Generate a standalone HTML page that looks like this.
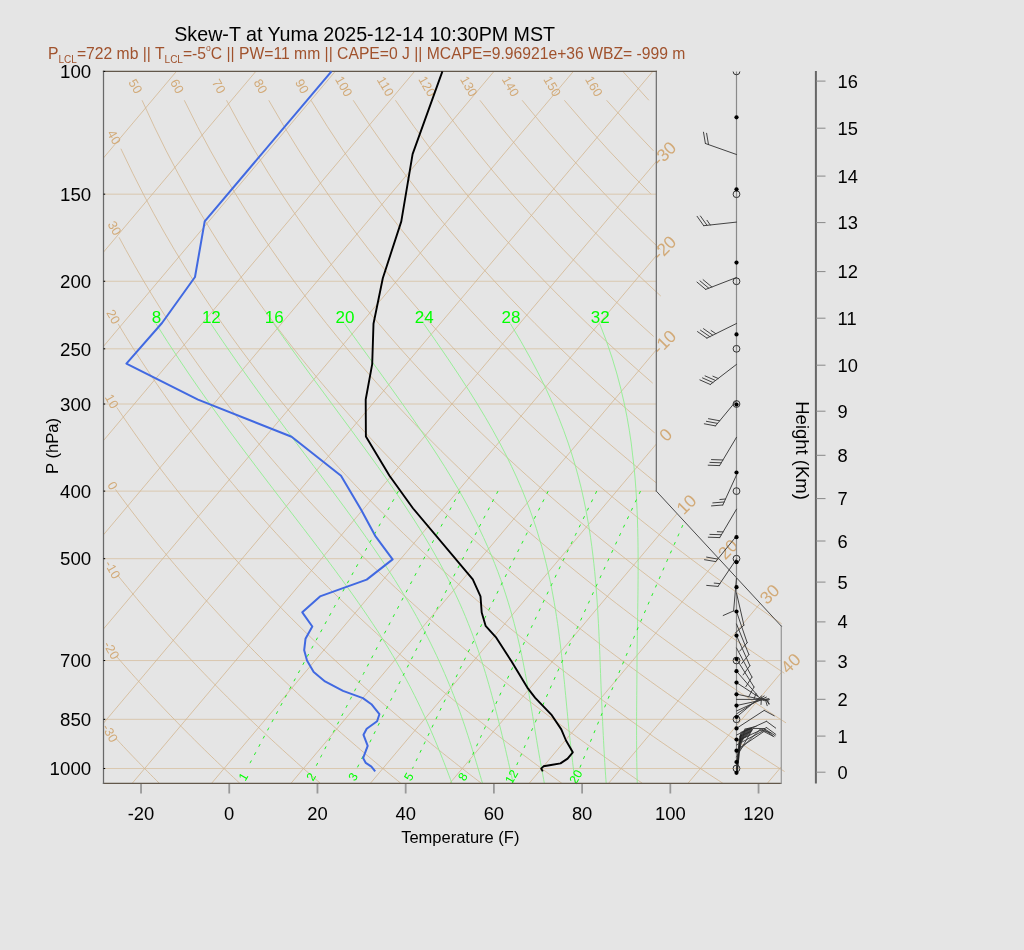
<!DOCTYPE html>
<html><head><meta charset="utf-8"><style>
html,body{margin:0;padding:0;background:#e5e5e5;overflow:hidden;}
svg{display:block;font-family:"Liberation Sans",sans-serif;will-change:transform;}
</style></head><body>
<svg width="1024" height="950" viewBox="0 0 1024 950">
<rect width="1024" height="950" fill="#e5e5e5"/>
<defs><clipPath id="cb"><polygon points="103.5,783.3 781.3,783.3 781.3,626.12 656.33,491.16 656.33,71.4 103.5,71.4"/></clipPath><clipPath id="ctop"><rect x="0" y="71.4" width="1024" height="900"/></clipPath></defs>
<g clip-path="url(#cb)" fill="none">
<g stroke="#d2b48c" stroke-width="1" stroke-opacity="0.6">
<line x1="103.5" y1="768.53" x2="781.3" y2="768.53"/>
<line x1="103.5" y1="719.33" x2="781.3" y2="719.33"/>
<line x1="103.5" y1="660.54" x2="781.3" y2="660.54"/>
<line x1="103.5" y1="558.68" x2="718.85" y2="558.68"/>
<line x1="103.5" y1="491.12" x2="656.33" y2="491.12"/>
<line x1="103.5" y1="404.02" x2="656.33" y2="404.02"/>
<line x1="103.5" y1="348.82" x2="656.33" y2="348.82"/>
<line x1="103.5" y1="281.27" x2="656.33" y2="281.27"/>
<line x1="103.5" y1="194.17" x2="656.33" y2="194.17"/>
<line x1="103.5" y1="71.42" x2="656.33" y2="71.42"/>
</g>
<g stroke="#d2b48c" stroke-width="0.9" stroke-opacity="0.85">
<line x1="-423.56" y1="783.3" x2="176.42" y2="71.4"/>
<line x1="-344.17" y1="783.3" x2="255.82" y2="71.4"/>
<line x1="-264.77" y1="783.3" x2="335.21" y2="71.4"/>
<line x1="-185.38" y1="783.3" x2="414.61" y2="71.4"/>
<line x1="-105.98" y1="783.3" x2="494" y2="71.4"/>
<line x1="-26.59" y1="783.3" x2="573.4" y2="71.4"/>
<line x1="52.81" y1="783.3" x2="652.79" y2="71.4"/>
<line x1="132.21" y1="783.3" x2="732.19" y2="71.4"/>
<line x1="211.6" y1="783.3" x2="811.58" y2="71.4"/>
<line x1="291" y1="783.3" x2="890.98" y2="71.4"/>
<line x1="370.39" y1="783.3" x2="970.38" y2="71.4"/>
<line x1="449.79" y1="783.3" x2="1049.77" y2="71.4"/>
<line x1="529.18" y1="783.3" x2="1129.17" y2="71.4"/>
<line x1="608.58" y1="783.3" x2="1208.56" y2="71.4"/>
<line x1="687.97" y1="783.3" x2="1287.96" y2="71.4"/>
<line x1="767.37" y1="783.3" x2="1367.35" y2="71.4"/>
</g>
</g>
<g stroke="#d2b48c" stroke-width="0.9" stroke-opacity="0.85" fill="none">
<polyline points="116.53,739.1 117.34,739.98 120.44,743.28 123.52,746.56 126.58,749.8 129.63,753 132.66,756.17 135.68,759.31 138.69,762.41 141.68,765.49 144.65,768.53 147.62,771.54 150.57,774.52 153.5,777.48 156.42,780.4 159.33,783.3"/>
<polyline points="116.89,656.8 120.14,660.54 123.9,664.84 127.64,669.07 131.35,673.25 135.04,677.37 138.71,681.43 142.35,685.44 145.98,689.4 149.58,693.31 153.16,697.16 156.72,700.97 160.27,704.73 163.79,708.45 167.29,712.12 170.77,715.74 174.24,719.33 177.68,722.87 181.1,726.37 184.51,729.83 187.9,733.25 191.27,736.63 194.63,739.98 197.96,743.28 201.28,746.56 204.58,749.8 207.87,753 211.14,756.17 214.39,759.31 217.63,762.41 220.85,765.49 224.05,768.53 227.24,771.54 230.41,774.52 233.57,777.48 236.71,780.4 239.84,783.3"/>
<polyline points="117.71,575.3 118.52,576.32 123.09,581.98 127.63,587.53 132.13,592.99 136.6,598.35 141.03,603.61 145.43,608.79 149.8,613.88 154.14,618.88 158.44,623.8 162.72,628.65 166.96,633.41 171.18,638.11 175.37,642.73 179.53,647.28 183.66,651.77 187.76,656.19 191.84,660.54 195.89,664.84 199.91,669.07 203.91,673.25 207.88,677.37 211.83,681.43 215.75,685.44 219.65,689.4 223.53,693.31 227.38,697.16 231.21,700.97 235.02,704.73 238.8,708.45 242.56,712.12 246.31,715.74 250.02,719.33 253.72,722.87 257.4,726.37 261.06,729.83 264.69,733.25 268.31,736.63 271.91,739.98 275.49,743.28 279.05,746.56 282.59,749.8 286.11,753 289.61,756.17 293.1,759.31 296.56,762.41 300.01,765.49 303.45,768.53 306.86,771.54 310.26,774.52 313.64,777.48 317.01,780.4 320.35,783.3"/>
<polyline points="115.5,489.5 116.68,491.12 122.21,498.6 127.68,505.89 133.1,513.01 138.48,519.97 143.8,526.78 149.07,533.43 154.3,539.94 159.48,546.32 164.62,552.56 169.71,558.68 174.76,564.67 179.77,570.55 184.74,576.32 189.66,581.98 194.55,587.53 199.39,592.99 204.2,598.35 208.97,603.61 213.71,608.79 218.4,613.88 223.06,618.88 227.69,623.8 232.29,628.65 236.84,633.41 241.37,638.11 245.87,642.73 250.33,647.28 254.76,651.77 259.16,656.19 263.53,660.54 267.87,664.84 272.19,669.07 276.47,673.25 280.73,677.37 284.95,681.43 289.16,685.44 293.33,689.4 297.48,693.31 301.6,697.16 305.7,700.97 309.77,704.73 313.82,708.45 317.84,712.12 321.84,715.74 325.81,719.33 329.77,722.87 333.7,726.37 337.6,729.83 341.49,733.25 345.35,736.63 349.19,739.98 353.01,743.28 356.81,746.56 360.59,749.8 364.35,753 368.08,756.17 371.8,759.31 375.5,762.41 379.18,765.49 382.84,768.53 386.48,771.54 390.1,774.52 393.71,777.48 397.3,780.4 400.86,783.3"/>
<polyline points="116.86,407.5 121.2,413.95 127.77,423.56 134.26,432.88 140.68,441.92 147.03,450.69 153.31,459.22 159.52,467.52 165.67,475.59 171.75,483.45 177.77,491.12 183.73,498.6 189.63,505.89 195.47,513.01 201.26,519.97 206.98,526.78 212.66,533.43 218.28,539.94 223.85,546.32 229.36,552.56 234.83,558.68 240.25,564.67 245.62,570.55 250.95,576.32 256.23,581.98 261.46,587.53 266.66,592.99 271.81,598.35 276.91,603.61 281.98,608.79 287.01,613.88 291.99,618.88 296.94,623.8 301.85,628.65 306.73,633.41 311.56,638.11 316.37,642.73 321.13,647.28 325.86,651.77 330.56,656.19 335.23,660.54 339.86,664.84 344.46,669.07 349.03,673.25 353.57,677.37 358.08,681.43 362.56,685.44 367.01,689.4 371.43,693.31 375.82,697.16 380.18,700.97 384.52,704.73 388.83,708.45 393.11,712.12 397.37,715.74 401.6,719.33 405.81,722.87 409.99,726.37 414.15,729.83 418.28,733.25 422.39,736.63 426.47,739.98 430.53,743.28 434.57,746.56 438.59,749.8 442.59,753 446.56,756.17 450.51,759.31 454.44,762.41 458.35,765.49 462.24,768.53 466.1,771.54 469.95,774.52 473.78,777.48 477.59,780.4 481.38,783.3"/>
<polyline points="118.11,323.9 125.78,336.47 133.53,348.82 141.19,360.7 148.74,372.13 156.2,383.14 163.55,393.76 170.82,404.02 177.99,413.95 185.08,423.56 192.08,432.88 199,441.92 205.83,450.69 212.59,459.22 219.27,467.52 225.87,475.59 232.41,483.45 238.87,491.12 245.26,498.6 251.58,505.89 257.84,513.01 264.04,519.97 270.17,526.78 276.24,533.43 282.25,539.94 288.21,546.32 294.11,552.56 299.95,558.68 305.74,564.67 311.48,570.55 317.16,576.32 322.8,581.98 328.38,587.53 333.92,592.99 339.41,598.35 344.85,603.61 350.25,608.79 355.61,613.88 360.92,618.88 366.19,623.8 371.42,628.65 376.61,633.41 381.76,638.11 386.86,642.73 391.94,647.28 396.97,651.77 401.96,656.19 406.92,660.54 411.85,664.84 416.74,669.07 421.59,673.25 426.42,677.37 431.2,681.43 435.96,685.44 440.68,689.4 445.38,693.31 450.04,697.16 454.67,700.97 459.27,704.73 463.85,708.45 468.39,712.12 472.9,715.74 477.39,719.33 481.85,722.87 486.29,726.37 490.69,729.83 495.07,733.25 499.43,736.63 503.76,739.98 508.06,743.28 512.34,746.56 516.59,749.8 520.82,753 525.03,756.17 529.22,759.31 533.38,762.41 537.51,765.49 541.63,768.53 545.72,771.54 549.8,774.52 553.85,777.48 557.88,780.4 561.89,783.3"/>
<polyline points="119.04,237.3 125.58,249.37 134.75,265.74 143.78,281.27 152.68,296.04 161.44,310.12 170.06,323.58 178.57,336.47 186.94,348.82 195.2,360.7 203.34,372.13 211.36,383.14 219.28,393.76 227.09,404.02 234.79,413.95 242.39,423.56 249.9,432.88 257.31,441.92 264.64,450.69 271.87,459.22 279.01,467.52 286.08,475.59 293.06,483.45 299.96,491.12 306.78,498.6 313.53,505.89 320.21,513.01 326.82,519.97 333.35,526.78 339.82,533.43 346.23,539.94 352.57,546.32 358.85,552.56 365.07,558.68 371.23,564.67 377.33,570.55 383.37,576.32 389.36,581.98 395.3,587.53 401.18,592.99 407.01,598.35 412.8,603.61 418.53,608.79 424.21,613.88 429.85,618.88 435.44,623.8 440.99,628.65 446.49,633.41 451.95,638.11 457.36,642.73 462.74,647.28 468.07,651.77 473.37,656.19 478.62,660.54 483.84,664.84 489.01,669.07 494.15,673.25 499.26,677.37 504.33,681.43 509.36,685.44 514.36,689.4 519.33,693.31 524.26,697.16 529.16,700.97 534.02,704.73 538.86,708.45 543.66,712.12 548.44,715.74 553.18,719.33 557.9,722.87 562.58,726.37 567.24,729.83 571.86,733.25 576.46,736.63 581.04,739.98 585.58,743.28 590.1,746.56 594.6,749.8 599.06,753 603.5,756.17 607.92,759.31 612.31,762.41 616.68,765.49 621.03,768.53 625.35,771.54 629.64,774.52 633.92,777.48 638.17,780.4 642.4,783.3"/>
<polyline points="120.92,148.7 121.92,150.85 132.73,173.28 143.36,194.17 153.82,213.71 164.09,232.06 174.19,249.37 184.12,265.74 193.89,281.27 203.49,296.04 212.93,310.12 222.21,323.58 231.35,336.47 240.35,348.82 249.21,360.7 257.93,372.13 266.53,383.14 275,393.76 283.35,404.02 291.59,413.95 299.71,423.56 307.72,432.88 315.63,441.92 323.44,450.69 331.15,459.22 338.76,467.52 346.28,475.59 353.71,483.45 361.05,491.12 368.31,498.6 375.48,505.89 382.58,513.01 389.6,519.97 396.54,526.78 403.41,533.43 410.21,539.94 416.93,546.32 423.59,552.56 430.19,558.68 436.71,564.67 443.18,570.55 449.59,576.32 455.93,581.98 462.22,587.53 468.45,592.99 474.62,598.35 480.74,603.61 486.8,608.79 492.82,613.88 498.78,618.88 504.69,623.8 510.55,628.65 516.37,633.41 522.14,638.11 527.86,642.73 533.54,647.28 539.18,651.77 544.77,656.19 550.32,660.54 555.82,664.84 561.29,669.07 566.72,673.25 572.1,677.37 577.45,681.43 582.76,685.44 588.04,689.4 593.28,693.31 598.48,697.16 603.64,700.97 608.78,704.73 613.87,708.45 618.94,712.12 623.97,715.74 628.97,719.33 633.94,722.87 638.88,726.37 643.78,729.83 648.66,733.25 653.5,736.63 658.32,739.98 663.11,743.28 667.87,746.56 672.6,749.8 677.3,753 681.98,756.17 686.63,759.31 691.25,762.41 695.85,765.49 700.42,768.53 704.97,771.54 709.49,774.52 713.99,777.48 718.46,780.4 722.91,783.3"/>
<polyline points="142.06,100.27 154.25,126.61 166.22,150.85 177.98,173.28 189.51,194.17 200.82,213.71 211.92,232.06 222.81,249.37 233.5,265.74 243.99,281.27 254.3,296.04 264.42,310.12 274.36,323.58 284.14,336.47 293.76,348.82 303.22,360.7 312.53,372.13 321.7,383.14 330.73,393.76 339.62,404.02 348.38,413.95 357.02,423.56 365.55,432.88 373.95,441.92 382.24,450.69 390.42,459.22 398.5,467.52 406.48,475.59 414.36,483.45 422.14,491.12 429.83,498.6 437.43,505.89 444.95,513.01 452.38,519.97 459.72,526.78 466.99,533.43 474.18,539.94 481.29,546.32 488.33,552.56 495.3,558.68 502.2,564.67 509.03,570.55 515.8,576.32 522.5,581.98 529.13,587.53 535.71,592.99 542.22,598.35 548.68,603.61 555.08,608.79 561.42,613.88 567.71,618.88 573.94,623.8 580.12,628.65 586.25,633.41 592.33,638.11 598.36,642.73 604.34,647.28 610.28,651.77 616.17,656.19 622.01,660.54 627.81,664.84 633.56,669.07 639.28,673.25 644.95,677.37 650.58,681.43 656.17,685.44 661.71,689.4 667.22,693.31 672.7,697.16 678.13,700.97 683.53,704.73 688.89,708.45 694.21,712.12 699.5,715.74 704.76,719.33 709.98,722.87 715.17,726.37 720.33,729.83 725.45,733.25 730.54,736.63 735.6,739.98 740.63,743.28 745.63,746.56 750.6,749.8 755.54,753 760.45,756.17 765.34,759.31 770.19,762.41 775.02,765.49 779.82,768.53 784.59,771.54"/>
<polyline points="184.29,100.27 197.54,126.61 210.52,150.85 223.22,173.28 235.66,194.17 247.83,213.71 259.75,232.06 271.43,249.37 282.88,265.74 294.1,281.27 305.11,296.04 315.91,310.12 326.51,323.58 336.93,336.47 347.17,348.82 357.23,360.7 367.13,372.13 376.86,383.14 386.45,393.76 395.89,404.02 405.18,413.95 414.34,423.56 423.37,432.88 432.27,441.92 441.04,450.69 449.7,459.22 458.25,467.52 466.68,475.59 475.01,483.45 483.23,491.12 491.36,498.6 499.38,505.89 507.32,513.01 515.16,519.97 522.91,526.78 530.57,533.43 538.16,539.94 545.66,546.32 553.08,552.56 560.42,558.68 567.69,564.67 574.89,570.55 582.01,576.32 589.06,581.98 596.05,587.53 602.97,592.99 609.83,598.35 616.62,603.61 623.35,608.79 630.02,613.88 636.64,618.88 643.19,623.8 649.69,628.65 656.13,633.41 662.52,638.11 668.86,642.73 675.15,647.28 681.38,651.77 687.57,656.19 693.71,660.54 699.8,664.84 705.84,669.07 711.84,673.25 717.79,677.37 723.7,681.43 729.57,685.44 735.39,689.4 741.17,693.31 746.92,697.16 752.62,700.97 758.28,704.73 763.9,708.45 769.49,712.12 775.04,715.74 780.55,719.33 786.03,722.87"/>
<polyline points="226.52,100.27 240.84,126.61 254.82,150.85 268.47,173.28 281.81,194.17 294.84,213.71 307.58,232.06 320.05,249.37 332.25,265.74 344.2,281.27 355.92,296.04 367.4,310.12 378.66,323.58 389.72,336.47 400.57,348.82 411.24,360.7 421.72,372.13 432.03,383.14 442.17,393.76 452.15,404.02 461.98,413.95 471.65,423.56 481.19,432.88 490.58,441.92 499.85,450.69 508.98,459.22 517.99,467.52 526.89,475.59 535.66,483.45 544.33,491.12 552.88,498.6 561.33,505.89 569.69,513.01 577.94,519.97 586.09,526.78 594.16,533.43 602.13,539.94 610.02,546.32 617.82,552.56 625.54,558.68 633.18,564.67 640.74,570.55 648.22,576.32 655.63,581.98 662.97,587.53 670.23,592.99 677.43,598.35 684.56,603.61 691.63,608.79 698.63,613.88 705.56,618.88 712.44,623.8 719.26,628.65 726.01,633.41 732.72,638.11 739.36,642.73 745.95,647.28 752.49,651.77 758.97,656.19 765.4,660.54 771.78,664.84 778.12,669.07 784.4,673.25"/>
<polyline points="268.75,100.27 284.13,126.61 299.11,150.85 313.72,173.28 327.95,194.17 341.85,213.71 355.41,232.06 368.67,249.37 381.63,265.74 394.31,281.27 406.73,296.04 418.89,310.12 430.81,323.58 442.51,336.47 453.98,348.82 465.25,360.7 476.32,372.13 487.2,383.14 497.9,393.76 508.42,404.02 518.77,413.95 528.97,423.56 539.01,432.88 548.9,441.92 558.65,450.69 568.26,459.22 577.74,467.52 587.09,475.59 596.31,483.45 605.42,491.12 614.41,498.6 623.29,505.89 632.05,513.01 640.72,519.97 649.28,526.78 657.74,533.43 666.11,539.94 674.38,546.32 682.56,552.56 690.66,558.68 698.67,564.67 706.59,570.55 714.43,576.32 722.2,581.98 729.89,587.53 737.5,592.99 745.04,598.35 752.5,603.61 759.9,608.79 767.23,613.88 774.49,618.88 781.69,623.8"/>
<polyline points="310.99,100.27 327.43,126.61 343.41,150.85 358.96,173.28 374.1,194.17 388.86,213.71 403.24,232.06 417.29,249.37 431.01,265.74 444.42,281.27 457.54,296.04 470.38,310.12 482.96,323.58 495.29,336.47 507.39,348.82 519.26,360.7 530.92,372.13 542.37,383.14 553.62,393.76 564.69,404.02 575.57,413.95 586.28,423.56 596.83,432.88 607.22,441.92 617.45,450.69 627.54,459.22 637.48,467.52 647.29,475.59 656.96,483.45"/>
<polyline points="353.22,100.27 370.72,126.61 387.71,150.85 404.21,173.28 420.25,194.17 435.86,213.71 451.07,232.06 465.91,249.37 480.38,265.74 494.52,281.27 508.35,296.04 521.87,310.12 535.11,323.58 548.08,336.47 560.8,348.82 573.27,360.7 585.51,372.13 597.53,383.14 609.34,393.76 620.95,404.02 632.37,413.95 643.6,423.56 654.65,432.88"/>
<polyline points="395.45,100.27 414.02,126.61 432.01,150.85 449.46,173.28 466.4,194.17 482.87,213.71 498.9,232.06 514.52,249.37 529.76,265.74 544.63,281.27 559.16,296.04 573.36,310.12 587.26,323.58 600.87,336.47 614.21,348.82 627.28,360.7 640.11,372.13 652.7,383.14"/>
<polyline points="437.68,100.27 457.31,126.61 476.31,150.85 494.7,173.28 512.55,194.17 529.88,213.71 546.73,232.06 563.14,249.37 579.13,265.74 594.73,281.27 609.97,296.04 624.85,310.12 639.41,323.58 653.66,336.47"/>
<polyline points="479.91,100.27 500.61,126.61 520.6,150.85 539.95,173.28 558.7,194.17 576.89,213.71 594.56,232.06 611.76,249.37 628.51,265.74 644.84,281.27 660.78,296.04"/>
<polyline points="522.14,100.27 543.9,126.61 564.9,150.85 585.2,173.28 604.84,194.17 623.9,213.71 642.4,232.06 660.38,249.37"/>
<polyline points="564.37,100.27 587.2,126.61 609.2,150.85 630.44,173.28 650.99,194.17"/>
<polyline points="606.6,100.27 630.49,126.61 653.5,150.85"/>
<polyline points="622.83,71.42 648.83,100.27"/>
</g>
<g clip-path="url(#cb)" fill="none">
<g stroke="#90ee90" stroke-width="0.9">
<polyline points="155.96,323.58 167.25,341.34 178.25,358.12 188.97,374.02 199.4,389.12 209.55,403.51 219.42,417.24 229.01,430.38 238.33,442.97 247.37,455.06 256.15,466.68 264.66,477.88 272.91,488.67 280.91,499.1 288.65,509.17 296.15,518.92 303.39,528.37 310.4,537.53 317.16,546.42 323.69,555.06 329.98,563.46 336.05,571.63 341.89,579.59 347.51,587.35 352.92,594.91 358.12,602.28 363.12,609.48 367.92,616.51 372.53,623.39 376.96,630.11 381.21,636.68 385.24,643.12 389.1,649.42 392.8,655.59 396.33,661.64 399.71,667.57 402.95,673.39 406.06,679.1 409.03,684.7 411.88,690.2 414.62,695.6 417.25,700.91 419.77,706.12 422.2,711.25 424.54,716.29 426.8,721.25 428.97,726.13 431.07,730.93 433.1,735.66 435.07,740.31 436.97,744.9 438.82,749.41 440.61,753.86 442.35,758.25 444.05,762.57 445.7,766.83 447.31,771.03 448.89,775.18 450.43,779.27 451.93,783.3"/>
<polyline points="210.78,323.58 222.77,341.34 234.38,358.12 245.62,374.02 256.48,389.12 266.99,403.51 277.13,417.24 286.91,430.38 296.34,442.97 305.43,455.06 314.17,466.68 322.58,477.88 330.66,488.67 338.41,499.1 345.84,509.17 352.96,518.92 359.77,528.37 366.28,537.53 372.49,546.42 378.42,555.06 384.06,563.46 389.44,571.63 394.55,579.59 399.42,587.35 404.04,594.91 408.44,602.28 412.61,609.48 416.58,616.51 420.34,623.39 423.92,630.11 427.32,636.68 430.56,643.12 433.64,649.42 436.58,655.59 439.37,661.64 442.04,667.57 444.59,673.39 447.03,679.1 449.37,684.7 451.61,690.2 453.76,695.6 455.84,700.91 457.8,706.12 459.66,711.25 461.45,716.29 463.17,721.25 464.83,726.13 466.42,730.93 467.96,735.66 469.46,740.31 470.91,744.9 472.31,749.41 473.69,753.86 475.02,758.25 476.33,762.57 477.61,766.83 478.86,771.03 480.09,775.18 481.3,779.27 482.5,783.3"/>
<polyline points="273.63,323.58 286.22,341.34 298.3,358.12 309.89,374.02 321,389.12 331.62,403.51 341.78,417.24 351.47,430.38 360.71,442.97 369.5,455.06 377.86,466.68 385.79,477.88 393.31,488.67 400.42,499.1 407.14,509.17 413.48,518.92 419.45,528.37 425.06,537.53 430.34,546.42 435.31,555.06 439.96,563.46 444.33,571.63 448.43,579.59 452.27,587.35 455.87,594.91 459.25,602.28 462.44,609.48 465.41,616.51 468.2,623.39 470.83,630.11 473.31,636.68 475.64,643.12 477.85,649.42 479.93,655.59 481.91,661.64 483.78,667.57 485.57,673.39 487.27,679.1 488.89,684.7 490.44,690.2 491.93,695.6 493.37,700.91 494.75,706.12 496.08,711.25 497.38,716.29 498.64,721.25 499.86,726.13 501.06,730.93 502.23,735.66 503.38,740.31 504.46,744.9 505.51,749.41 506.53,753.86 507.54,758.25 508.52,762.57 509.49,766.83 510.44,771.03 511.38,775.18 512.32,779.27 513.25,783.3"/>
<polyline points="344.46,323.58 357.32,341.34 369.49,358.12 381.03,374.02 391.92,389.12 402.19,403.51 411.85,417.24 420.91,430.38 429.4,442.97 437.33,455.06 444.72,466.68 451.6,477.88 457.99,488.67 463.92,499.1 469.41,509.17 474.49,518.92 479.19,528.37 483.53,537.53 487.53,546.42 491.23,555.06 494.65,563.46 497.83,571.63 500.72,579.59 503.39,587.35 505.86,594.91 508.2,602.28 510.34,609.48 512.33,616.51 514.18,623.39 515.9,630.11 517.51,636.68 519.01,643.12 520.42,649.42 521.75,655.59 522.99,661.64 524.17,667.57 525.28,673.39 526.35,679.1 527.37,684.7 528.35,690.2 529.28,695.6 530.19,700.91 531.06,706.12 531.91,711.25 532.74,716.29 533.55,721.25 534.35,726.13 535.13,730.93 535.91,735.66 536.69,740.31 537.45,744.9 538.22,749.41 538.99,753.86 539.76,758.25 540.53,762.57 541.31,766.83 542.09,771.03 542.86,775.18 543.6,779.27 544.33,783.3"/>
<polyline points="423.6,323.58 436.02,341.34 447.54,358.12 458.19,374.02 468,389.12 477.03,403.51 485.31,417.24 492.87,430.38 499.76,442.97 506.03,455.06 511.72,466.68 516.89,477.88 521.57,488.67 525.82,499.1 529.65,509.17 533.13,518.92 536.3,528.37 539.06,537.53 541.69,546.42 544.03,555.06 546.15,563.46 548.07,571.63 549.82,579.59 551.41,587.35 552.86,594.91 554.19,602.28 555.4,609.48 556.52,616.51 557.54,623.39 558.49,630.11 559.36,636.68 560.17,643.12 560.93,649.42 561.63,655.59 562.3,661.64 562.93,667.57 563.53,673.39 564.09,679.1 564.64,684.7 565.17,690.2 565.68,695.6 566.19,700.91 566.68,706.12 567.16,711.25 567.65,716.29 568.13,721.25 568.61,726.13 569.09,730.93 569.58,735.66 570.11,740.31 570.63,744.9 571.14,749.41 571.65,753.86 572.16,758.25 572.67,762.57 573.18,766.83 573.7,771.03 574.22,775.18 574.74,779.27 575.27,783.3"/>
<polyline points="510.35,323.58 520.91,341.34 530.34,358.12 538.73,374.02 546.17,389.12 552.75,403.51 558.55,417.24 563.66,430.38 568.16,442.97 572.12,455.06 575.59,466.68 578.65,477.88 581.36,488.67 583.68,499.1 585.75,509.17 587.56,518.92 589.16,528.37 590.56,537.53 591.8,546.42 592.88,555.06 593.84,563.46 594.69,571.63 595.43,579.59 596.09,587.35 596.68,594.91 597.2,602.28 597.66,609.48 598.07,616.51 598.44,623.39 598.78,630.11 599.09,636.68 599.37,643.12 599.63,649.42 599.87,655.59 600.11,661.64 600.33,667.57 600.55,673.39 600.76,679.1 600.97,684.7 601.18,690.2 601.4,695.6 601.65,700.91 601.9,706.12 602.14,711.25 602.38,716.29 602.61,721.25 602.84,726.13 603.07,730.93 603.3,735.66 603.54,740.31 603.77,744.9 604.01,749.41 604.26,753.86 604.51,758.25 604.77,762.57 605.04,766.83 605.31,771.03 605.6,775.18 605.89,779.27 606.19,783.3"/>
<polyline points="599.67,323.58 606.5,341.34 612.19,358.12 616.96,374.02 620.95,389.12 624.31,403.51 627.05,417.24 629.34,430.38 631.23,442.97 632.61,455.06 634.03,466.68 635.04,477.88 635.87,488.67 636.52,499.1 637.02,509.17 637.41,518.92 637.69,528.37 637.9,537.53 638.03,546.42 638.1,555.06 638.13,563.46 638.11,571.63 638.07,579.59 638.01,587.35 637.93,594.91 637.84,602.28 637.74,609.48 637.63,616.51 637.52,623.39 637.42,630.11 637.31,636.68 637.22,643.12 637.13,649.42 637.05,655.59 637.02,661.64 636.99,667.57 636.94,673.39 636.89,679.1 636.85,684.7 636.8,690.2 636.76,695.6 636.72,700.91 636.68,706.12 636.65,711.25 636.62,716.29 636.6,721.25 636.59,726.13 636.58,730.93 636.58,735.66 636.6,740.31 636.62,744.9 636.65,749.41 636.69,753.86 636.74,758.25 636.8,762.57 636.87,766.83 636.96,771.03 637.05,775.18 637.16,779.27 637.28,783.3"/>
</g>
<g stroke="#22ee22" stroke-width="1" stroke-dasharray="3,6.3">
<polyline points="398.43,491.12 389.9,506.39 381.81,520.92 374.11,534.79 366.76,548.05 359.73,560.76 353.01,572.95 346.55,584.67 340.35,595.96 334.39,606.83 328.64,617.34 323.1,627.48 317.74,637.3 312.56,646.82 307.55,656.04 302.7,664.99 297.99,673.68 293.43,682.13 288.99,690.35 284.68,698.35 280.48,706.15 276.4,713.75 272.42,721.16 268.54,728.4 264.76,735.47 261.07,742.38 257.47,749.13 253.95,755.73 250.51,762.2 247.14,768.53"/>
<polyline points="459.98,491.12 451.77,506.39 443.98,520.92 436.57,534.79 429.5,548.05 422.75,560.76 416.28,572.95 410.08,584.67 404.13,595.96 398.4,606.83 392.89,617.34 387.57,627.48 382.44,637.3 377.47,646.82 372.67,656.04 368.02,664.99 363.51,673.68 359.14,682.13 354.89,690.35 350.76,698.35 346.75,706.15 342.84,713.75 339.04,721.16 335.33,728.4 331.72,735.47 328.19,742.38 324.75,749.13 321.39,755.73 318.1,762.2 314.89,768.53"/>
<polyline points="498.01,491.12 490.01,506.39 482.41,520.92 475.19,534.79 468.3,548.05 461.72,560.76 455.42,572.95 449.39,584.67 443.59,595.96 438.02,606.83 432.65,617.34 427.48,627.48 422.48,637.3 417.66,646.82 412.99,656.04 408.47,664.99 404.09,673.68 399.84,682.13 395.71,690.35 391.7,698.35 387.81,706.15 384.02,713.75 380.32,721.16 376.73,728.4 373.22,735.47 369.8,742.38 366.46,749.13 363.2,755.73 360.02,762.2 356.9,768.53"/>
<polyline points="548.2,491.12 540.48,506.39 533.15,520.92 526.18,534.79 519.54,548.05 513.19,560.76 507.13,572.95 501.31,584.67 495.73,595.96 490.37,606.83 485.2,617.34 480.23,627.48 475.43,637.3 470.79,646.82 466.3,656.04 461.96,664.99 457.75,673.68 453.67,682.13 449.71,690.35 445.86,698.35 442.13,706.15 438.49,713.75 434.95,721.16 431.5,728.4 428.14,735.47 424.86,742.38 421.67,749.13 418.55,755.73 415.5,762.2 412.52,768.53"/>
<polyline points="596.74,491.12 589.29,506.39 582.22,520.92 575.51,534.79 569.11,548.05 563.01,560.76 557.17,572.95 551.58,584.67 546.21,595.96 541.06,606.83 536.1,617.34 531.32,627.48 526.71,637.3 522.26,646.82 517.95,656.04 513.79,664.99 509.75,673.68 505.84,682.13 502.05,690.35 498.36,698.35 494.78,706.15 491.3,713.75 487.91,721.16 484.62,728.4 481.4,735.47 478.27,742.38 475.21,749.13 472.23,755.73 469.32,762.2 466.47,768.53"/>
<polyline points="640.48,491.12 633.28,506.39 626.46,520.92 619.98,534.79 613.81,548.05 607.93,560.76 602.3,572.95 596.92,584.67 591.75,595.96 586.79,606.83 582.02,617.34 577.42,627.48 572.99,637.3 568.71,646.82 564.57,656.04 560.57,664.99 556.7,673.68 552.95,682.13 549.3,690.35 545.77,698.35 542.34,706.15 539,713.75 535.75,721.16 532.59,728.4 529.51,735.47 526.51,742.38 523.59,749.13 520.74,755.73 517.95,762.2 515.23,768.53"/>
<polyline points="698.02,491.12 691.17,506.39 684.68,520.92 678.53,534.79 672.67,548.05 667.08,560.76 661.74,572.95 656.63,584.67 651.73,595.96 647.03,606.83 642.51,617.34 638.16,627.48 633.97,637.3 629.93,646.82 626.02,656.04 622.24,664.99 618.59,673.68 615.05,682.13 611.61,690.35 608.28,698.35 605.05,706.15 601.91,713.75 598.85,721.16 595.88,728.4 592.98,735.47 590.16,742.38 587.42,749.13 584.74,755.73 582.12,762.2 579.57,768.53"/>
</g>
</g>
<g fill="#d2aa78" font-size="12.8" text-anchor="middle">
<text transform="translate(110.1,733.1) rotate(60)" y="4.4">-30</text>
<text transform="translate(111.4,650.2) rotate(60)" y="4.4">-20</text>
<text transform="translate(112.6,569.6) rotate(60)" y="4.4">-10</text>
<text transform="translate(112.6,485.7) rotate(60)" y="4.4">0</text>
<text transform="translate(111.8,401.2) rotate(60)" y="4.4">10</text>
<text transform="translate(113.4,316.8) rotate(60)" y="4.4">20</text>
<text transform="translate(114.5,228.1) rotate(60)" y="4.4">30</text>
<text transform="translate(114,137.3) rotate(60)" y="4.4">40</text>
<text transform="translate(135.48,86.3) rotate(60)" y="4.4">50</text>
<text transform="translate(177.16,86.3) rotate(60)" y="4.4">60</text>
<text transform="translate(218.83,86.3) rotate(60)" y="4.4">70</text>
<text transform="translate(260.51,86.3) rotate(60)" y="4.4">80</text>
<text transform="translate(302.18,86.3) rotate(60)" y="4.4">90</text>
<text transform="translate(343.86,86.3) rotate(60)" y="4.4">100</text>
<text transform="translate(385.54,86.3) rotate(60)" y="4.4">110</text>
<text transform="translate(427.21,86.3) rotate(60)" y="4.4">120</text>
<text transform="translate(468.89,86.3) rotate(60)" y="4.4">130</text>
<text transform="translate(510.56,86.3) rotate(60)" y="4.4">140</text>
<text transform="translate(552.24,86.3) rotate(60)" y="4.4">150</text>
<text transform="translate(593.91,86.3) rotate(60)" y="4.4">160</text>
</g>
<g fill="#d2aa78" font-size="17.5">
<text transform="translate(656.33,161.41) rotate(-45)" x="-1.5" y="6.1">-30</text>
<text transform="translate(656.33,255.62) rotate(-45)" x="-1.5" y="6.1">-20</text>
<text transform="translate(656.33,349.82) rotate(-45)" x="-1.5" y="6.1">-10</text>
<text transform="translate(656.33,444.03) rotate(-45)" x="8.23" y="6.1">0</text>
<text transform="translate(677.1,513.59) rotate(-45)" x="3.37" y="6.1">10</text>
<text transform="translate(718.66,558.48) rotate(-45)" x="3.37" y="6.1">20</text>
<text transform="translate(760.23,603.36) rotate(-45)" x="3.37" y="6.1">30</text>
<text transform="translate(781.3,672.56) rotate(-45)" x="3.37" y="6.1">40</text>
</g>
<g fill="#00ff00" font-size="17" text-anchor="middle">
<text x="156.56" y="323.38">8</text>
<text x="211.38" y="323.38">12</text>
<text x="274.23" y="323.38">16</text>
<text x="345.06" y="323.38">20</text>
<text x="424.2" y="323.38">24</text>
<text x="510.95" y="323.38">28</text>
<text x="600.27" y="323.38">32</text>
</g>
<g fill="#00ff00" font-size="12.2" text-anchor="middle">
<text transform="translate(243.14,776.53) rotate(-60)" y="4.5">1</text>
<text transform="translate(310.89,776.53) rotate(-60)" y="4.5">2</text>
<text transform="translate(352.9,776.53) rotate(-60)" y="4.5">3</text>
<text transform="translate(408.52,776.53) rotate(-60)" y="4.5">5</text>
<text transform="translate(462.47,776.53) rotate(-60)" y="4.5">8</text>
<text transform="translate(511.23,776.53) rotate(-60)" y="4.5">12</text>
<text transform="translate(575.57,776.53) rotate(-60)" y="4.5">20</text>
</g>
<line x1="103.5" y1="783.3" x2="781.3" y2="783.3" stroke="#62574a" stroke-width="1.25" stroke-linecap="square"/>
<line x1="781.3" y1="783.3" x2="781.3" y2="626.12" stroke="#9a9a9a" stroke-width="1.25" stroke-linecap="square"/>
<line x1="781.3" y1="626.12" x2="656.33" y2="491.16" stroke="#4a4a4a" stroke-width="1.0" stroke-linecap="square"/>
<line x1="656.33" y1="491.16" x2="656.33" y2="71.4" stroke="#707070" stroke-width="1.25" stroke-linecap="square"/>
<line x1="656.33" y1="71.4" x2="103.5" y2="71.4" stroke="#62574a" stroke-width="1.25" stroke-linecap="square"/>
<line x1="103.5" y1="71.4" x2="103.5" y2="783.3" stroke="#686868" stroke-width="1.25" stroke-linecap="square"/>
<g fill="#000" font-size="18.7" text-anchor="end">
<text x="91.2" y="78.22">100</text>
<line x1="103.5" y1="71.42" x2="105.2" y2="71.42" stroke="#000" stroke-width="1"/>
<text x="91.2" y="200.97">150</text>
<line x1="103.5" y1="194.17" x2="105.2" y2="194.17" stroke="#000" stroke-width="1"/>
<text x="91.2" y="288.07">200</text>
<line x1="103.5" y1="281.27" x2="105.2" y2="281.27" stroke="#000" stroke-width="1"/>
<text x="91.2" y="355.62">250</text>
<line x1="103.5" y1="348.82" x2="105.2" y2="348.82" stroke="#000" stroke-width="1"/>
<text x="91.2" y="410.82">300</text>
<line x1="103.5" y1="404.02" x2="105.2" y2="404.02" stroke="#000" stroke-width="1"/>
<text x="91.2" y="497.92">400</text>
<line x1="103.5" y1="491.12" x2="105.2" y2="491.12" stroke="#000" stroke-width="1"/>
<text x="91.2" y="565.48">500</text>
<line x1="103.5" y1="558.68" x2="105.2" y2="558.68" stroke="#000" stroke-width="1"/>
<text x="91.2" y="667.34">700</text>
<line x1="103.5" y1="660.54" x2="105.2" y2="660.54" stroke="#000" stroke-width="1"/>
<text x="91.2" y="726.13">850</text>
<line x1="103.5" y1="719.33" x2="105.2" y2="719.33" stroke="#000" stroke-width="1"/>
<text x="91.2" y="775.33">1000</text>
<line x1="103.5" y1="768.53" x2="105.2" y2="768.53" stroke="#000" stroke-width="1"/>
</g>
<text transform="translate(58.2,446) rotate(-90)" text-anchor="middle" font-size="16.6" fill="#000">P (hPa)</text>
<g fill="#000" font-size="18.4" text-anchor="middle">
<line x1="141.03" y1="784" x2="141.03" y2="793.5" stroke="#999" stroke-width="1.8"/>
<text x="141.03" y="819.8">-20</text>
<line x1="229.24" y1="784" x2="229.24" y2="793.5" stroke="#999" stroke-width="1.8"/>
<text x="229.24" y="819.8">0</text>
<line x1="317.46" y1="784" x2="317.46" y2="793.5" stroke="#999" stroke-width="1.8"/>
<text x="317.46" y="819.8">20</text>
<line x1="405.68" y1="784" x2="405.68" y2="793.5" stroke="#999" stroke-width="1.8"/>
<text x="405.68" y="819.8">40</text>
<line x1="493.89" y1="784" x2="493.89" y2="793.5" stroke="#999" stroke-width="1.8"/>
<text x="493.89" y="819.8">60</text>
<line x1="582.11" y1="784" x2="582.11" y2="793.5" stroke="#999" stroke-width="1.8"/>
<text x="582.11" y="819.8">80</text>
<line x1="670.33" y1="784" x2="670.33" y2="793.5" stroke="#999" stroke-width="1.8"/>
<text x="670.33" y="819.8">100</text>
<line x1="758.55" y1="784" x2="758.55" y2="793.5" stroke="#999" stroke-width="1.8"/>
<text x="758.55" y="819.8">120</text>
</g>
<text x="460.3" y="842.6" text-anchor="middle" font-size="16.5" fill="#000">Temperature (F)</text>
<text x="364.7" y="40.6" text-anchor="middle" font-size="19.68" fill="#000">Skew-T at Yuma 2025-12-14 10:30PM MST</text>
<text x="48.1" y="58.9" font-size="15.7" fill="#a0522d">P<tspan font-size="10" dy="3.6">LCL</tspan><tspan dy="-3.6">=722 mb || T</tspan><tspan font-size="10" dy="3.6">LCL</tspan><tspan dy="-3.6">=-5</tspan><tspan font-size="8.6" dy="-7.6">o</tspan><tspan dy="7.6">C || PW=11 mm || CAPE=0 J || MCAPE=9.96921e+36 WBZ= -999 m</tspan></text>
<line x1="815.9" y1="71" x2="815.9" y2="783.4" stroke="#666" stroke-width="2"/>
<g fill="#000" font-size="18.3">
<line x1="816" y1="772.2" x2="825.5" y2="772.2" stroke="#888" stroke-width="1"/>
<text x="837.6" y="778.7">0</text>
<line x1="816" y1="736.1" x2="825.5" y2="736.1" stroke="#888" stroke-width="1"/>
<text x="837.6" y="742.6">1</text>
<line x1="816" y1="699.3" x2="825.5" y2="699.3" stroke="#888" stroke-width="1"/>
<text x="837.6" y="705.8">2</text>
<line x1="816" y1="661.1" x2="825.5" y2="661.1" stroke="#888" stroke-width="1"/>
<text x="837.6" y="667.6">3</text>
<line x1="816" y1="621.9" x2="825.5" y2="621.9" stroke="#888" stroke-width="1"/>
<text x="837.6" y="628.4">4</text>
<line x1="816" y1="582.1" x2="825.5" y2="582.1" stroke="#888" stroke-width="1"/>
<text x="837.6" y="588.6">5</text>
<line x1="816" y1="541" x2="825.5" y2="541" stroke="#888" stroke-width="1"/>
<text x="837.6" y="547.5">6</text>
<line x1="816" y1="498.6" x2="825.5" y2="498.6" stroke="#888" stroke-width="1"/>
<text x="837.6" y="505.1">7</text>
<line x1="816" y1="455.3" x2="825.5" y2="455.3" stroke="#888" stroke-width="1"/>
<text x="837.6" y="461.8">8</text>
<line x1="816" y1="411.2" x2="825.5" y2="411.2" stroke="#888" stroke-width="1"/>
<text x="837.6" y="417.7">9</text>
<line x1="816" y1="365.2" x2="825.5" y2="365.2" stroke="#888" stroke-width="1"/>
<text x="837.6" y="371.7">10</text>
<line x1="816" y1="318.2" x2="825.5" y2="318.2" stroke="#888" stroke-width="1"/>
<text x="837.6" y="324.7">11</text>
<line x1="816" y1="271.6" x2="825.5" y2="271.6" stroke="#888" stroke-width="1"/>
<text x="837.6" y="278.1">12</text>
<line x1="816" y1="222.6" x2="825.5" y2="222.6" stroke="#888" stroke-width="1"/>
<text x="837.6" y="229.1">13</text>
<line x1="816" y1="176.1" x2="825.5" y2="176.1" stroke="#888" stroke-width="1"/>
<text x="837.6" y="182.6">14</text>
<line x1="816" y1="128.2" x2="825.5" y2="128.2" stroke="#888" stroke-width="1"/>
<text x="837.6" y="134.7">15</text>
<line x1="816" y1="81.1" x2="825.5" y2="81.1" stroke="#888" stroke-width="1"/>
<text x="837.6" y="87.6">16</text>
</g>
<text transform="translate(796.3,450.6) rotate(90)" text-anchor="middle" font-size="18.5" fill="#000">Height (Km)</text>
<line x1="736.5" y1="71.4" x2="736.5" y2="772.8" stroke="#8a8a8a" stroke-width="1.2"/>
<g stroke="#3a3a3a" stroke-width="0.95" fill="none" stroke-linecap="round">
<path d="M736.5 154.5L705.4 143.5M705.4 143.5L703.5 132.2M708.5 144.6L706.6 133.3M736.5 222.1L703.7 225.7M703.7 225.7L697.1 216.3M707.0 225.3L700.4 216.0M710.3 225.0L707.0 220.3M736.5 277.5L705.7 289.4M705.7 289.4L697.0 282.1M708.8 288.2L700.0 280.9M711.9 287.0L703.1 279.7M736.5 323.5L706.9 338.1M706.9 338.1L697.5 331.6M709.9 336.7L700.5 330.2M712.8 335.2L703.5 328.7M715.8 333.7L711.1 330.5M736.5 364.4L710.3 384.5M710.3 384.5L699.9 379.9M712.9 382.5L702.5 377.9M715.6 380.5L705.1 375.9M718.2 378.5L712.9 376.2M736.5 400.5L715.5 425.9M715.5 425.9L704.3 423.8M717.6 423.4L706.4 421.3M719.7 420.8L708.5 418.7M736.5 437.3L719.6 465.6M719.6 465.6L708.2 465.2M721.2 462.8L709.9 462.4M722.9 460.0L711.5 459.6M736.5 475.0L722.8 505.0M722.8 505.0L711.5 505.9M724.2 502.0L712.8 502.9M725.6 499.0L719.9 499.5M736.5 509.2L719.7 537.6M719.7 537.6L708.3 537.2M721.3 534.7L709.9 534.4M723.0 531.9L717.3 531.7M736.5 536.0L715.7 561.6M715.7 561.6L704.5 559.7M717.8 559.1L706.6 557.1M736.5 559.0L718.0 586.4M718.0 586.4L706.7 585.4M719.9 583.6L714.2 583.1M736.5 578.0L733.6 610.9M733.6 610.9L723.2 615.5M736.5 593.0L743.9 625.2M743.9 625.2L735.5 632.8M736.5 611.5L747.2 642.7M747.2 642.7L739.6 651.2M736.5 624.0L748.9 654.6M748.9 654.6L741.7 663.5M736.5 635.6L749.9 665.7M749.9 665.7L743.1 674.9M736.5 648.0L752.0 677.1M752.0 677.1L745.8 686.7M736.5 659.0L754.0 687.0M754.0 687.0L748.5 697.0M736.5 671.2L758.1 696.1M756.0 693.6L754.0 699.0M736.5 682.6L764.2 700.6M761.4 698.8L761.0 704.5M736.5 694.1L768.8 701.0M765.6 700.3L767.2 705.7M736.5 699.4L769.5 699.4M766.2 699.4L769.0 704.4M736.5 705.5L768.8 698.6M765.6 699.3L769.3 703.6M736.5 711.0L766.4 697.1M763.4 698.4L768.0 701.8M736.5 714.0L764.2 696.0M761.4 697.8L766.4 700.5M736.5 717.0L761.8 695.8M759.3 697.9L764.6 700.0M736.5 728.4L764.2 710.4M764.2 710.4L774.2 715.8M736.5 735.0L766.5 721.3M766.5 721.3L775.7 728.1M736.5 741.0L766.6 727.6M766.6 727.6L775.8 734.4M763.6 728.9L772.7 735.8M736.5 745.0L765.6 729.5M765.6 729.5L775.2 735.7M736.5 750.0L763.9 731.5M763.9 731.5L774.0 736.7M736.5 753.0L759.8 729.7M759.8 729.7L770.8 732.8M736.5 757.0L753.0 728.4M753.0 728.4L764.4 728.6M736.5 761.0L745.0 729.1M745.0 729.1L756.1 726.4M736.5 765.0L741.1 732.3M741.1 732.3L751.7 728.2M736.5 769.0L739.9 736.2M739.9 736.2L750.4 731.7M736.5 772.8L739.4 739.9M739.4 739.9L749.8 735.3"/>
</g>
<path d="M740.2,742 L740.8,734 L743.5,730.5 L747.5,728.2 L751.5,727.8 L752.5,730 L749.5,734 L745,737.5 L741.5,742 Z" fill="#2a2a2a" fill-opacity="0.85"/>
<line x1="737" y1="772" x2="740.8" y2="735" stroke="#222" stroke-width="1.7" stroke-linecap="round"/>
<g fill="none" stroke="#333" stroke-width="1" clip-path="url(#ctop)">
<circle cx="736.5" cy="71.4" r="3.4"/>
<circle cx="736.5" cy="194.2" r="3.4"/>
<circle cx="736.5" cy="281.3" r="3.4"/>
<circle cx="736.5" cy="348.8" r="3.4"/>
<circle cx="736.5" cy="404.0" r="3.4"/>
<circle cx="736.5" cy="491.1" r="3.4"/>
<circle cx="736.5" cy="558.7" r="3.4"/>
<circle cx="736.5" cy="660.5" r="3.4"/>
<circle cx="736.5" cy="719.3" r="3.4"/>
<circle cx="736.5" cy="768.5" r="3.4"/>
</g><g fill="#000">
<circle cx="736.5" cy="117.3" r="2.1"/>
<circle cx="736.5" cy="189.3" r="2.1"/>
<circle cx="736.5" cy="262.6" r="2.1"/>
<circle cx="736.5" cy="334.4" r="2.1"/>
<circle cx="736.5" cy="404.5" r="2.1"/>
<circle cx="736.5" cy="472.5" r="2.1"/>
<circle cx="736.5" cy="537.2" r="2.1"/>
<circle cx="736.5" cy="562.2" r="2.1"/>
<circle cx="736.5" cy="587.2" r="2.1"/>
<circle cx="736.5" cy="611.5" r="2.1"/>
<circle cx="736.5" cy="635.6" r="2.1"/>
<circle cx="736.5" cy="659" r="2.1"/>
<circle cx="736.5" cy="671.2" r="2.1"/>
<circle cx="736.5" cy="682.6" r="2.1"/>
<circle cx="736.5" cy="694.3" r="2.1"/>
<circle cx="736.5" cy="705.6" r="2.1"/>
<circle cx="736.5" cy="717" r="2.1"/>
<circle cx="736.5" cy="728.4" r="2.1"/>
<circle cx="736.5" cy="739.5" r="2.1"/>
<circle cx="736.5" cy="750.7" r="2.1"/>
<circle cx="736.5" cy="762" r="2.1"/>
<circle cx="736.5" cy="772.8" r="2.1"/>
</g>
<polyline points="331.5,71.4 204.7,221.3 195,277 162,323 126.4,363.6 198,399.6 291.6,436.8 341,475.8 361,509.5 375.2,535.8 392.6,559.4 366.7,579.6 320,596.4 302.3,612.3 312.3,626.5 305.5,638.8 304.2,650.2 307,660.6 313.7,672 325,681.4 343,690.9 362.9,698.1 371.4,704.2 379.4,714.2 377.1,721.2 366.7,728.8 363.5,734.8 367.7,745.8 363.1,758.1 365.8,762.9 371.4,766.7 375.2,771.4" fill="none" stroke="#4169e1" stroke-width="2" stroke-linejoin="round"/>
<polyline points="442.4,71.4 412.6,154.1 401.3,221.4 382.8,278.2 373.5,323.7 372.2,364.1 365.7,399.5 365.9,436.6 389.5,475.8 413.1,508.5 472.8,579.3 480.5,596.3 481.7,612.5 485.6,625.8 495.8,637.1 511.6,661.6 527.3,687.6 535.2,697.9 551.8,715.2 561.3,729.4 566,740.5 572.8,752.3 567.6,758.6 560.5,763.4 551,765 543.5,766.3 541.2,768.6 542.8,771.4" fill="none" stroke="#000" stroke-width="1.9" stroke-linejoin="round"/>
</svg></body></html>
